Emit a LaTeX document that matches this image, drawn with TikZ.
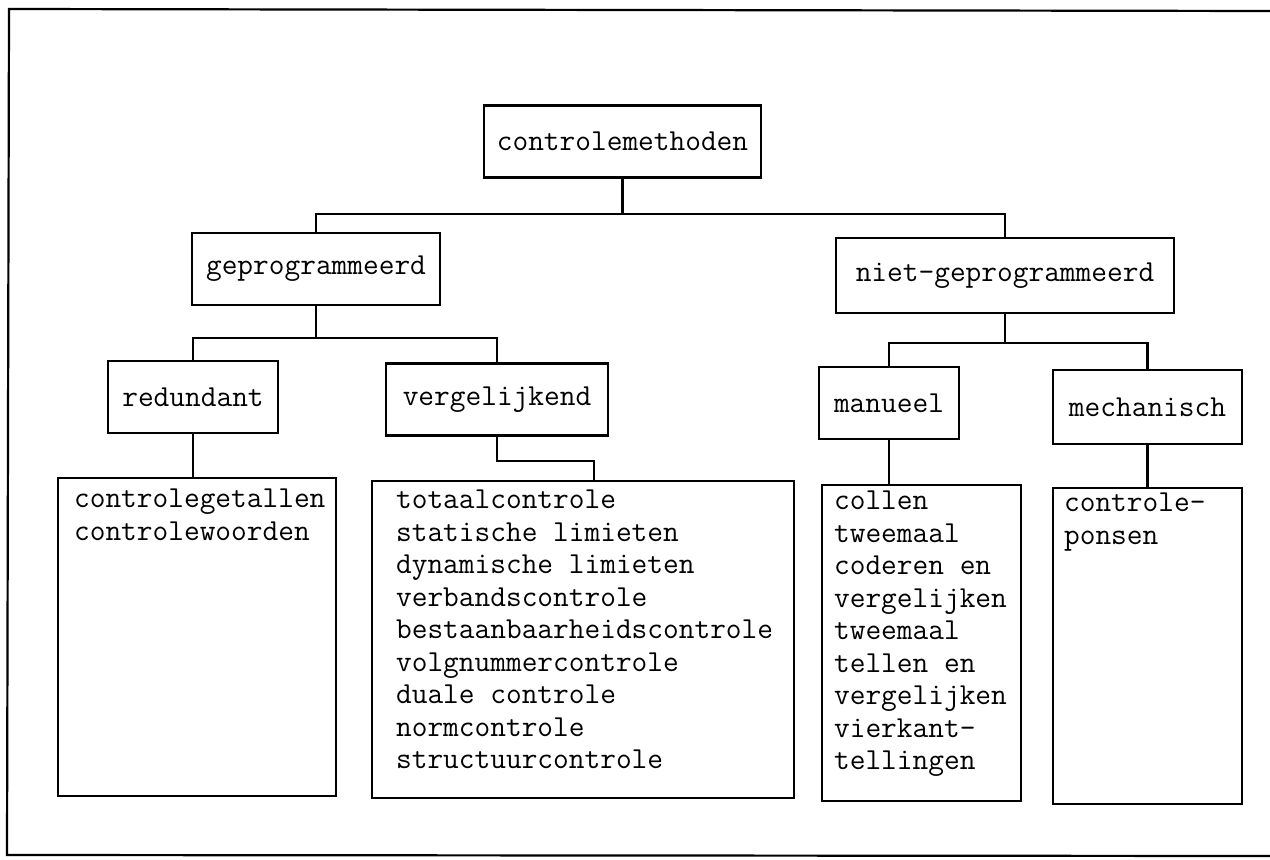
\documentclass[tikz,border=0pt]{standalone}
\usepackage{tikz}
\usetikzlibrary{calc}

\begin{document}
\begin{tikzpicture}[x=1pt,y=-1pt,line width=2.2pt,
    font=\ttfamily\fontsize{30.5}{32.5}\selectfont,
    methode/.style={draw,rectangle,inner sep=0pt,minimum height=72pt},
    lijst/.style={draw,rectangle,inner sep=0pt,anchor=north west},
    lijsttekst/.style={inner sep=0pt,anchor=north west,align=left}]
        \useasboundingbox (0,0) rectangle (1270,860);
        % kader rond de figuur
        \draw (1275,11) -- (9,9) -- (7,855) -- (1275,856);
        % bovenste niveaus
        \node[methode,minimum width=277pt] (cm) at (622.5,141.5) {controlemethoden};
        \node[methode,minimum width=248pt] (gp) at (316,269) {geprogrammeerd};
        \node[methode,minimum width=338pt,minimum height=75pt] (ngp) at (1005,275.5) {niet-geprogrammeerd};
        \node[methode,minimum width=170pt] (red) at (193,397) {redundant};
        \node[methode,minimum width=222pt] (verg) at (497,399.5) {vergelijkend};
        \node[methode,minimum width=140pt] (man) at (889,403) {manueel};
        \node[methode,minimum width=189pt,minimum height=74pt] (mech) at (1147.5,407) {mechanisch};
        % lijsten met de methoden
        \node[lijst,minimum width=278pt,minimum height=318pt] (redl) at (57,477) {};
        \node[lijst,minimum width=422pt,minimum height=317pt] (vergl) at (371,480) {};
        \node[lijst,minimum width=199pt,minimum height=316pt] (manl) at (821,484) {};
        \node[lijst,minimum width=189pt,minimum height=316pt] (mechl) at (1052,487) {};
        \node[lijsttekst] (redt) at ($(redl.north west)+(16,11)$)
          {controlegetallen\\controlewoorden};
        \node[lijsttekst] (vergt) at ($(vergl.north west)+(24,9)$)
          {totaalcontrole\\statische limieten\\dynamische limieten\\verbandscontrole\\%
           bestaanbaarheidscontrole\\volgnummercontrole\\duale controle\\normcontrole\\%
           structuurcontrole};
        \node[lijsttekst] (mant) at ($(manl.north west)+(12,6)$)
          {collen\\tweemaal\\coderen en\\vergelijken\\tweemaal\\tellen en\\vergelijken\\%
           vierkant-\\tellingen};
        \node[lijsttekst] (mecht) at ($(mechl.north west)+(11,5)$)
          {controle-\\ponsen};
        % verbindingen
        \draw (cm.south) -- ++(0,35) -| (gp.north);
        \draw (cm.south) -- ++(0,35) -| (ngp.north);
        \draw (gp.south) -- ++(0,32) -| (red.north);
        \draw (gp.south) -- ++(0,32) -| (verg.north);
        \draw (ngp.south) -- ++(0,29) -| (man.north);
        \draw (ngp.south) -- ++(0,29) -| (mech.north);
        \draw (red.south) -- (red.south |- redl.north);
        \draw (verg.south) -- ++(0,24) -| ($(vergl.north)+(11,0)$);
        \draw (man.south) -- (man.south |- manl.north);
        \draw (mech.south) -- (mech.south |- mechl.north);
      \end{tikzpicture}
\end{document}
